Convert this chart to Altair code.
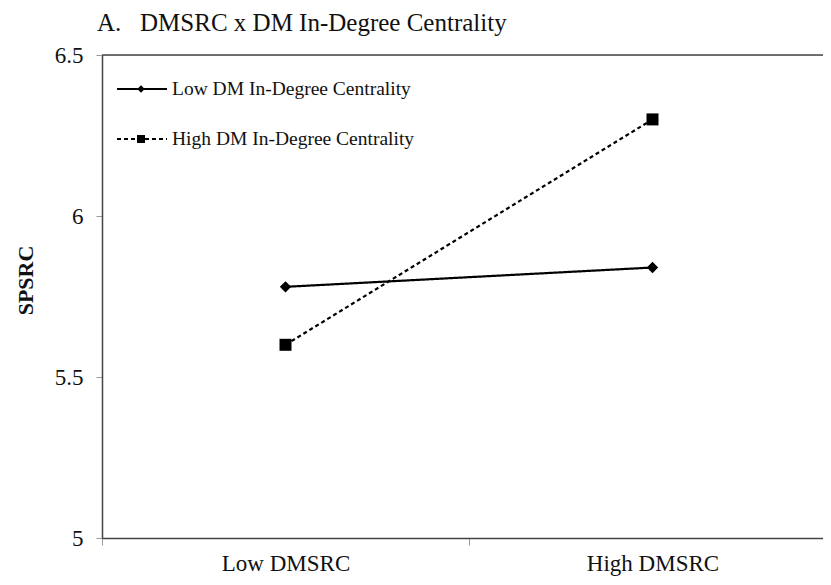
import altair as alt
import pandas as pd

# ---- data ----
conditions = ["Low DMSRC", "High DMSRC"]
series_names = ["Low DM In-Degree Centrality", "High DM In-Degree Centrality"]
low_centrality_values = [5.78, 5.84]
high_centrality_values = [5.60, 6.30]
y_ticks = [5, 5.5, 6, 6.5]

rows = []
for s, vals in zip(series_names, [low_centrality_values, high_centrality_values]):
    for c, v in zip(conditions, vals):
        rows.append({"cond": c, "value": v, "series": s})
df = pd.DataFrame(rows)

FONT = "Liberation Serif"
INK = "#111111"
AXIS = "#444444"

x_enc = alt.X(
    "cond:N",
    sort=conditions,
    bandPosition=0.5,
    scale=alt.Scale(type="band", domain=conditions, paddingInner=0, paddingOuter=0, range=[0, 734]),
    axis=alt.Axis(
        title=None, tickBand="extent", labelFont=FONT, labelFontSize=23, labelColor=INK,
        labelPadding=7, tickSize=7, tickColor="#999999", domainColor=AXIS, domainWidth=1.5,
        labelAngle=0, grid=False,
    ),
)
y_enc = alt.Y(
    "value:Q",
    scale=alt.Scale(domain=[5, 6.5], nice=False, zero=False),
    axis=alt.Axis(
        values=y_ticks, format="~g", grid=False,
        title="SPSRC", titleFont=FONT, titleFontWeight="bold", titleFontSize=22, titleColor=INK,
        titleAngle=270, titleX=-77, titleY=225, titleBaseline="middle", titleAlign="center",
        labelFont=FONT, labelFontSize=23, labelColor=INK, labelPadding=13,
        tickSize=6, tickColor="#999999", domainColor=AXIS, domainWidth=1.5,
    ),
)

dash_scale = alt.Scale(domain=series_names, range=[[1, 0], [4, 3]])
shape_scale = alt.Scale(domain=series_names, range=["diamond", "square"])
size_scale = alt.Scale(domain=series_names, range=[130, 144])

lines = alt.Chart(df).mark_line(color="black", strokeWidth=2.2).encode(
    x=x_enc, y=y_enc,
    strokeDash=alt.StrokeDash("series:N", scale=dash_scale, legend=None),
    detail="series:N",
)
points = alt.Chart(df).mark_point(filled=True, color="black", opacity=1).encode(
    x=x_enc, y=y_enc,
    shape=alt.Shape("series:N", scale=shape_scale, legend=None),
    size=alt.Size("series:O", scale=size_scale, legend=None),
)

top_border = alt.Chart(pd.DataFrame({"a": [0]})).mark_rule(color=AXIS, strokeWidth=1.5).encode(
    x=alt.value(0), x2=alt.value(760), y=alt.value(0)
)

# ---- custom legend (line + marker) ----
legend_layers = []
leg_dash = [[1, 0], [4, 3]]
leg_shape = ["diamond", "square"]
leg_size = [55, 64]
for i, name in enumerate(series_names):
    yy = 34 + 50 * i
    ldf = pd.DataFrame({"label": [name]})
    legend_layers.append(
        alt.Chart(ldf).mark_rule(color="black", strokeWidth=1.8, strokeDash=leg_dash[i]).encode(
            x=alt.value(15), x2=alt.value(65), y=alt.value(yy)
        )
    )
    legend_layers.append(
        alt.Chart(ldf).mark_point(filled=True, color="black", opacity=1, shape=leg_shape[i], size=leg_size[i]).encode(
            x=alt.value(39), y=alt.value(yy)
        )
    )
    legend_layers.append(
        alt.Chart(ldf).mark_text(font=FONT, fontSize=19.5, color=INK, align="left", baseline="middle").encode(
            text="label:N", x=alt.value(70), y=alt.value(yy)
        )
    )

chart = alt.layer(top_border, lines, points, *legend_layers).properties(
    width=721,
    height=483,
    title=alt.TitleParams(
        "A.\u00a0\u00a0\u00a0DMSRC x DM In-Degree Centrality",
        anchor="start", frame="group", font=FONT, fontSize=25, fontWeight="normal",
        color=INK, dx=-5, offset=8,
    ),
    padding={"left": 94, "top": 47, "right": 0, "bottom": 42},
    autosize=alt.AutoSizeParams(type="none"),
).configure_view(stroke=None).configure_axis(
    labelFont=FONT, titleFont=FONT
).configure(background="white", font=FONT)

chart.save("out.html", embed_options={"renderer": "svg", "actions": False})
